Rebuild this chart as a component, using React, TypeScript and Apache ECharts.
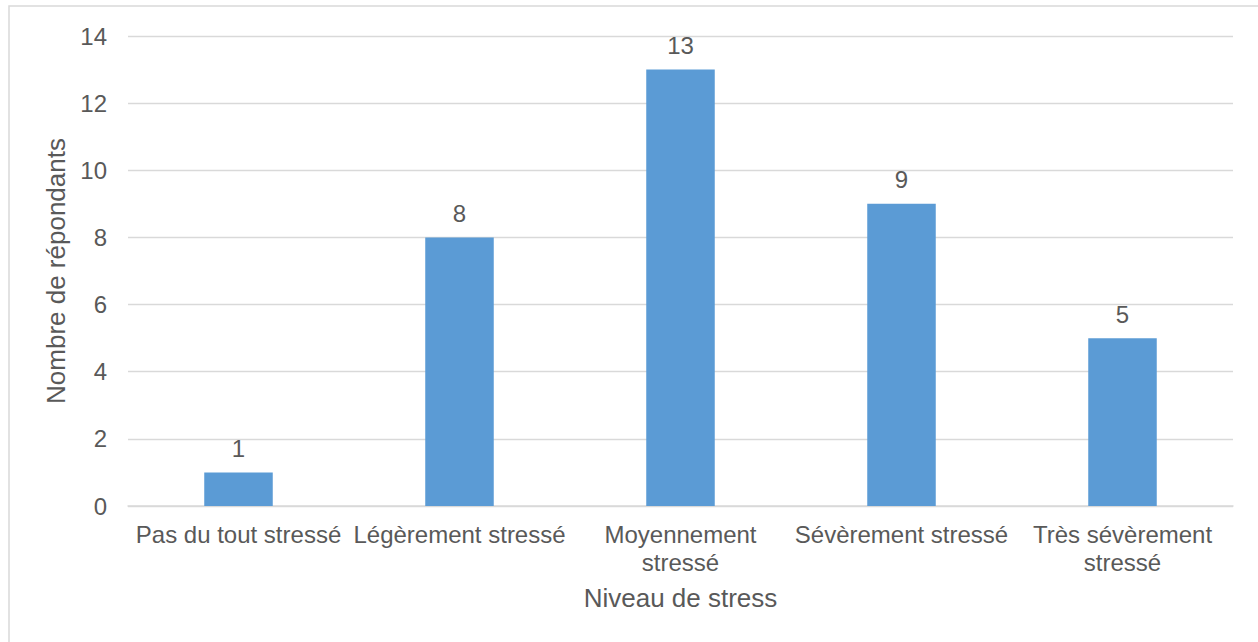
import React, { useEffect, useRef } from "react";
import * as echarts from "echarts";

const categories = [
  "Pas du tout stressé",
  "Légèrement stressé",
  "Moyennement stressé",
  "Sévèrement stressé",
  "Très sévèrement stressé",
];
const categoryLabels = [
  "Pas du tout stressé",
  "Légèrement stressé",
  "Moyennement\nstressé",
  "Sévèrement stressé",
  "Très sévèrement\nstressé",
];
const values = [1, 8, 13, 9, 5];
const yTicks = [0, 2, 4, 6, 8, 10, 12, 14];
const xTitle = "Niveau de stress";
const yTitle = "Nombre de répondants";

const FONT = "'Liberation Sans', Arial, sans-serif";
const TEXT = "#595959";
const GRID = "#D9D9D9";

export default function App() {
  const ref = useRef<HTMLDivElement>(null);
  useEffect(() => {
    document.body.style.margin = "0";
    const chart = echarts.init(ref.current!, null, { renderer: "svg" });
    chart.setOption({
      animation: false,
      backgroundColor: "#ffffff",
      textStyle: { fontFamily: FONT, color: TEXT },
      graphic: [
        {
          type: "rect",
          shape: { x: 9, y: 6, width: 1300, height: 700 },
          style: { fill: "none", stroke: GRID, lineWidth: 1.5 },
          silent: true,
          z: -1,
        },
      ],
      grid: { left: 128, right: 25, top: 36, bottom: 136, containLabel: false },
      xAxis: {
        type: "category",
        data: categories,
        name: xTitle,
        nameLocation: "middle",
        nameGap: 79,
        nameTextStyle: { fontSize: 26, color: TEXT, fontFamily: FONT },
        axisLine: { show: true, lineStyle: { color: GRID, width: 1.5 } },
        axisTick: { show: false },
        axisLabel: {
          interval: 0,
          margin: 14,
          fontSize: 24,
          lineHeight: 28,
          color: TEXT,
          fontFamily: FONT,
          formatter: (_v: string, i: number) => categoryLabels[i],
        },
      },
      yAxis: {
        type: "value",
        min: yTicks[0],
        max: yTicks[yTicks.length - 1],
        interval: yTicks[1] - yTicks[0],
        name: yTitle,
        nameLocation: "middle",
        nameRotate: 90,
        nameGap: 58,
        nameTextStyle: { fontSize: 26, color: TEXT, fontFamily: FONT },
        axisLine: { show: false },
        axisTick: { show: false },
        axisLabel: { margin: 21, fontSize: 24, color: TEXT, fontFamily: FONT },
        splitLine: { show: true, lineStyle: { color: GRID, width: 1.3 } },
      },
      series: [
        {
          type: "bar",
          data: values,
          barWidth: "31%",
          itemStyle: { color: "#5B9BD5" },
          label: {
            show: true,
            position: "top",
            distance: 12,
            fontSize: 24,
            color: TEXT,
            fontFamily: FONT,
          },
        },
      ],
    });
    return () => chart.dispose();
  }, []);
  return <div ref={ref} style={{ width: 1258, height: 642 }} />;
}
